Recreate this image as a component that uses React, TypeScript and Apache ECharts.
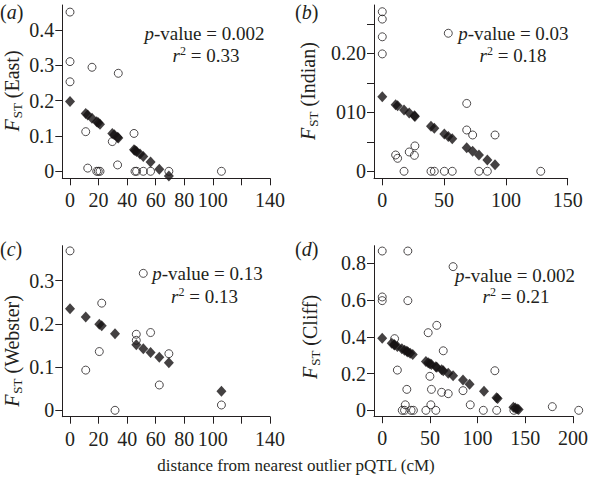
import React, { useEffect, useRef } from "react";
import * as echarts from "echarts";

const FONT = '"Liberation Serif", "Times New Roman", Times, serif';
const INK = "#231f20";

// ---- Panel (a) East ----
const eastCircles: [number, number][] = [
  [0, 0.45], [0, 0.31], [0, 0.253], [15.4, 0.294], [33.8, 0.277], [11, 0.112],
  [44.8, 0.107], [29.6, 0.084], [12.4, 0.009], [33.3, 0.018], [18.7, 0], [19.8, 0],
  [21, 0], [45.5, 0], [46.6, 0], [51.3, 0], [56.4, 0], [69.2, 0], [106, 0],
];
const eastDiamonds: [number, number][] = [
  [0, 0.197], [11, 0.163], [12.4, 0.159], [15.4, 0.15], [18.7, 0.14], [19.8, 0.137],
  [21, 0.133], [29.6, 0.107], [31, 0.103], [33.3, 0.096], [33.8, 0.094], [44.8, 0.061],
  [45.5, 0.059], [46.6, 0.056], [49, 0.049], [51.3, 0.042], [56.4, 0.026], [62.5, 0.006],
  [69.2, -0.013],
];

// ---- Panel (b) Indian ----
const indianCircles: [number, number][] = [
  [0, 0.2705], [0, 0.258], [0, 0.228], [0, 0.199], [53.4, 0.234], [68.3, 0.115],
  [68.3, 0.07], [73.1, 0.0615], [91.2, 0.0615], [10.8, 0.0276], [12.4, 0.022],
  [21.8, 0.0327], [26.4, 0.043], [26, 0.027], [17.6, 0], [39.4, 0], [42.1, 0],
  [50.2, 0], [56.6, 0], [78.2, 0], [85, 0], [128.2, 0],
];
const indianDiamonds: [number, number][] = [
  [0, 0.1265], [10.8, 0.113], [12.4, 0.111], [17.6, 0.104], [21.8, 0.099], [26, 0.094],
  [26.4, 0.093], [39.4, 0.0765], [42.1, 0.073], [50.2, 0.063], [53.4, 0.059],
  [56.6, 0.055], [68.3, 0.04], [73.1, 0.034], [78.2, 0.0275], [85, 0.019], [91.2, 0.011],
];

// ---- Panel (c) Webster ----
const websterCircles: [number, number][] = [
  [0, 0.369], [51.3, 0.317], [22.2, 0.248], [20.5, 0.136], [11, 0.093], [31.5, 0],
  [46.4, 0.176], [46.4, 0.162], [56.4, 0.18], [69.2, 0.131], [62.5, 0.0586], [106, 0.0123],
];
const websterDiamonds: [number, number][] = [
  [0, 0.235], [11, 0.216], [20.5, 0.199], [22.2, 0.196], [31.5, 0.177], [46.4, 0.152],
  [51.3, 0.1426], [56.4, 0.134], [62.5, 0.123], [69.2, 0.11], [106, 0.044],
];

// ---- Panel (d) Cliff ----
const cliffCircles: [number, number][] = [
  [0, 0.867], [26.9, 0.867], [0, 0.617], [0, 0.597], [26.9, 0.597], [74.3, 0.782],
  [57.2, 0.4625], [48.2, 0.4225], [64, 0.324], [13, 0.39], [15.9, 0.219], [50, 0.185],
  [118.1, 0.2155], [25.8, 0.114], [51.6, 0.114], [62.3, 0.098], [69.2, 0.0905],
  [84.7, 0.107], [92.3, 0.03], [51, 0.03], [24.2, 0.03], [178.3, 0.02], [206, 0],
  [21, 0], [23.4, 0], [30.3, 0], [32.7, 0], [45.8, 0], [56.2, 0], [106, 0], [120, 0],
  [138, 0],
];
const cliffDiamonds: [number, number][] = [
  [0, 0.392], [10, 0.365], [12.4, 0.358], [13, 0.356], [15.9, 0.348], [20.6, 0.335],
  [23.4, 0.327], [25.8, 0.321], [26.9, 0.318], [29.3, 0.311], [32, 0.304], [45.8, 0.266],
  [48.2, 0.259], [50, 0.254], [51.6, 0.25], [56.2, 0.237], [57.2, 0.235], [62.3, 0.221],
  [64, 0.216], [69.2, 0.202], [74.3, 0.188], [84.7, 0.165], [91.6, 0.142], [106.7, 0.104],
  [119.8, 0.068], [121, 0.065], [137.5, 0.017], [139.5, 0.012], [141.5, 0.007], [143, 0.004],
];

// ---- Tick values and labels ----
const xTicksA = [0, 20, 40, 60, 80, 100, 120, 140];
const xLabelsA = [0, 20, 40, 60, 80, 100, 140];
const xTicksB = [0, 50, 100, 150];
const xLabelsB = [0, 50, 100, 150];
const xTicksD = [0, 50, 100, 150, 200];
const xLabelsD = [0, 50, 100, 150, 200];

const yTicksA = [0, 0.1, 0.2, 0.3, 0.4];
const yLabelValsA = [0, 0.1, 0.2, 0.3, 0.4];
const yLabelTextsA = ["0", "0.1", "0.2", "0.3", "0.4"];
const yTicksB = [0, 0.05, 0.1, 0.15, 0.2, 0.25];
const yLabelValsB = [0, 0.1, 0.2];
const yLabelTextsB = ["0", "010", "0.20"];
const yTicksC = [0, 0.1, 0.2, 0.3];
const yLabelValsC = [0, 0.1, 0.2, 0.3];
const yLabelTextsC = ["0", "0.1", "0.2", "0.3"];
const yTicksD = [0, 0.2, 0.4, 0.6, 0.8];
const yLabelValsD = [0, 0.2, 0.4, 0.6, 0.8];
const yLabelTextsD = ["0", "0.2", "0.4", "0.6", "0.8"];

const panelLetters = ["a", "b", "c", "d"];
const populations = ["East", "Indian", "Webster", "Cliff"];
const pValues = ["0.002", "0.03", "0.13", "0.002"];
const rSquared = ["0.33", "0.18", "0.13", "0.21"];
const xTitle = "distance from nearest outlier pQTL (cM)";

export default function App() {
  const ref = useRef<HTMLDivElement>(null);
  useEffect(() => {
    if (!ref.current) return;
    const chart = echarts.init(ref.current, null, { renderer: "svg" });

    const panels = [
      {
        grid: { left: 62.3, top: 5, width: 207.7, height: 173.3 },
        xMin: -5.4, xMax: 140, yMin: -0.0198, yMax: 0.47,
        xTicks: xTicksA, xLabels: xLabelsA,
        yTicks: yTicksA, yLabelVals: yLabelValsA, yLabelTexts: yLabelTextsA,
        circles: eastCircles, diamonds: eastDiamonds,
        letterPos: [0, 12], namePos: [12, 91], pPos: [204.5, 33], rPos: [206, 55],
      },
      {
        grid: { left: 374, top: 5, width: 193.7, height: 173.3 },
        xMin: -6.7, xMax: 150, yMin: -0.0119, yMax: 0.2819,
        xTicks: xTicksB, xLabels: xLabelsB,
        yTicks: yTicksB, yLabelVals: yLabelValsB, yLabelTexts: yLabelTextsB,
        circles: indianCircles, diamonds: indianDiamonds,
        letterPos: [295, 12], namePos: [308, 91], pPos: [513.4, 33], rPos: [513, 55],
      },
      {
        grid: { left: 62.3, top: 245.7, width: 207.7, height: 171 },
        xMin: -5.4, xMax: 140, yMin: -0.0148, yMax: 0.381,
        xTicks: xTicksA, xLabels: xLabelsA,
        yTicks: yTicksC, yLabelVals: yLabelValsC, yLabelTexts: yLabelTextsC,
        circles: websterCircles, diamonds: websterDiamonds,
        letterPos: [0, 249], namePos: [12, 351], pPos: [207.5, 273], rPos: [204.5, 296.7],
      },
      {
        grid: { left: 374, top: 245.7, width: 202, height: 170.5 },
        xMin: -8.6, xMax: 200, yMin: -0.032, yMax: 0.896,
        xTicks: xTicksD, xLabels: xLabelsD,
        yTicks: yTicksD, yLabelVals: yLabelValsD, yLabelTexts: yLabelTextsD,
        circles: cliffCircles, diamonds: cliffDiamonds,
        letterPos: [295, 249], namePos: [310, 337], pPos: [515, 275], rPos: [516, 296.7],
      },
    ];

    const labelStyle = { color: INK, fontFamily: FONT, fontSize: 20 };

    const grids = panels.map((p) => ({ ...p.grid, containLabel: false }));
    const xAxes = panels.map((p, i) => ({
      gridIndex: i,
      type: "value",
      min: p.xMin,
      max: p.xMax,
      axisLine: { show: true, onZero: false, lineStyle: { color: INK, width: 1 } },
      axisTick: { show: true, length: 7, customValues: p.xTicks, lineStyle: { color: INK, width: 1 } },
      axisLabel: { ...labelStyle, margin: 12, customValues: p.xLabels, formatter: (v: number) => String(Math.round(v)) },
      splitLine: { show: false },
    }));
    const yAxes = panels.map((p, i) => ({
      gridIndex: i,
      type: "value",
      min: p.yMin,
      max: p.yMax,
      axisLine: { show: true, onZero: false, lineStyle: { color: INK, width: 1 } },
      axisTick: { show: true, length: 7, customValues: p.yTicks, lineStyle: { color: INK, width: 1 } },
      axisLabel: {
        ...labelStyle,
        margin: 8,
        customValues: p.yLabelVals,
        formatter: (v: number) => {
          let best = 0;
          p.yLabelVals.forEach((lv, k) => {
            if (Math.abs(lv - v) < Math.abs(p.yLabelVals[best] - v)) best = k;
          });
          return p.yLabelTexts[best];
        },
      },
      splitLine: { show: false },
    }));

    const series: any[] = [];
    panels.forEach((p, i) => {
      series.push({
        type: "scatter",
        xAxisIndex: i,
        yAxisIndex: i,
        data: p.circles,
        symbol: "circle",
        symbolSize: 8,
        clip: false,
        silent: true,
        itemStyle: { color: "rgba(255,255,255,0)", borderColor: INK, borderWidth: 1 },
      });
      series.push({
        type: "scatter",
        xAxisIndex: i,
        yAxisIndex: i,
        data: p.diamonds,
        symbol: "diamond",
        symbolSize: [10, 11],
        clip: false,
        silent: true,
        itemStyle: { color: "#151213" },
      });
    });

    const baseText = { fontFamily: FONT, fontSize: 18, fill: INK };
    const graphics: any[] = [];
    panels.forEach((p, i) => {
      graphics.push({
        type: "text",
        x: p.letterPos[0],
        y: p.letterPos[1],
        style: {
          ...baseText,
          fontSize: 20,
          text: `({i|${panelLetters[i]}})`,
          rich: { i: { fontFamily: FONT, fontSize: 20, fontStyle: "italic", color: INK } },
          align: "left",
          verticalAlign: "middle",
        },
      });
      graphics.push({
        type: "text",
        x: p.namePos[0],
        y: p.namePos[1],
        rotation: Math.PI / 2,
        style: {
          ...baseText,
          fontSize: 20,
          text: `{i|F}{sub|ST} (${populations[i]})`,
          rich: {
            i: { fontFamily: FONT, fontSize: 20, fontStyle: "italic", color: INK },
            sub: { fontFamily: FONT, fontSize: 13, color: INK, padding: [10, 0, 0, 1] },
          },
          align: "center",
          verticalAlign: "middle",
        },
      });
      graphics.push({
        type: "text",
        x: p.pPos[0],
        y: p.pPos[1],
        style: {
          ...baseText,
          fontSize: 19,
          text: `{i|p}-value = ${pValues[i]}`,
          rich: { i: { fontFamily: FONT, fontSize: 19, fontStyle: "italic", color: INK } },
          align: "center",
          verticalAlign: "middle",
        },
      });
      graphics.push({
        type: "text",
        x: p.rPos[0],
        y: p.rPos[1],
        style: {
          ...baseText,
          fontSize: 19,
          text: `{i|r}{sup|2} = ${rSquared[i]}`,
          rich: {
            i: { fontFamily: FONT, fontSize: 19, fontStyle: "italic", color: INK },
            sup: { fontFamily: FONT, fontSize: 12, color: INK, padding: [0, 0, 9, 0] },
          },
          align: "center",
          verticalAlign: "middle",
        },
      });
    });
    graphics.push({
      type: "text",
      x: 296,
      y: 465,
      style: { ...baseText, fontSize: 17, text: xTitle, align: "center", verticalAlign: "middle" },
    });

    chart.setOption({
      animation: false,
      backgroundColor: "#ffffff",
      grid: grids,
      xAxis: xAxes,
      yAxis: yAxes,
      series,
      graphic: graphics,
    });
    return () => chart.dispose();
  }, []);
  return (
    <div
      ref={ref}
      style={{ position: "fixed", left: 0, top: 0, width: 591, height: 479, background: "#fff" }}
    />
  );
}
